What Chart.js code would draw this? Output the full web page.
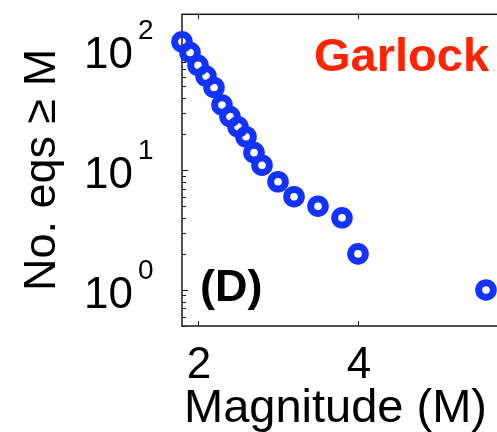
<!DOCTYPE html>
<html>
<head>
  <title>Garlock magnitude-frequency</title>
  <script src="https://cdn.jsdelivr.net/npm/chart.js"></script>
  <style>
    html, body {
      margin: 0;
      padding: 0;
      background: #fff;
      overflow: hidden;
    }
    canvas { display: block; }
  </style>
</head>
<body>
<canvas id="gr" width="540" height="432"></canvas>
<script>
  // cumulative number of events with magnitude >= M
  const magnitudes = [1.8, 1.9, 2.0, 2.1, 2.2, 2.3, 2.4, 2.5, 2.6, 2.7, 2.8, 3.0, 3.2, 3.5, 3.8, 4.0, 5.6];
  const counts     = [118, 96, 75, 61, 49, 35, 28, 23, 19, 14, 11, 8, 6, 5, 4, 2, 1];

  const xTicks = [2, 4, 6];
  const yDecades = [0, 1, 2];   // exponents of the labelled powers of ten

  const FONT = '"Liberation Sans", Arial, Helvetica, sans-serif';
  const INK = '#1a1a1a';

  // box, inward ticks and all the text around the axes
  const axesDecor = {
    id: 'axesDecor',
    beforeDatasetsDraw(chart) {
      const { ctx, chartArea: a } = chart;
      const xs = chart.scales.x, ys = chart.scales.y;
      ctx.save();
      ctx.strokeStyle = INK;
      ctx.lineWidth = 1.5;
      ctx.strokeRect(a.left, a.top, a.right - a.left, a.bottom - a.top);

      ctx.lineWidth = 1;
      // log ticks: 1..9 in each decade
      for (let e = -1; e <= 2; e++) {
        for (let m = 1; m <= 9; m++) {
          const v = m * Math.pow(10, e);
          if (v < ys.min || v > ys.max) continue;
          const py = Math.round(ys.getPixelForValue(v)) + 0.5;
          const len = m === 1 ? 6 : 4;
          ctx.beginPath();
          ctx.moveTo(a.left, py); ctx.lineTo(a.left + len, py);
          ctx.moveTo(a.right, py); ctx.lineTo(a.right - len, py);
          ctx.stroke();
        }
      }
      xTicks.forEach(t => {
        const px = Math.round(xs.getPixelForValue(t)) + 0.5;
        ctx.beginPath();
        ctx.moveTo(px, a.bottom); ctx.lineTo(px, a.bottom - 5);
        ctx.moveTo(px, a.top); ctx.lineTo(px, a.top + 5);
        ctx.stroke();
      });
      ctx.restore();
    },
    afterDraw(chart) {
      const { ctx, chartArea: a } = chart;
      const xs = chart.scales.x, ys = chart.scales.y;
      ctx.save();
      ctx.fillStyle = '#000';
      ctx.textBaseline = 'alphabetic';

      // y tick labels 10^n
      yDecades.forEach(n => {
        const py = ys.getPixelForValue(Math.pow(10, n));
        ctx.font = '44px ' + FONT;
        ctx.textAlign = 'left';
        const baseX = a.left - 98;
        ctx.fillText('10', baseX, py + 18);
        const w = ctx.measureText('10').width;
        ctx.font = '28px ' + FONT;
        ctx.fillText(String(n), baseX + w + 5, py - 11);
      });

      // x tick labels
      ctx.font = '44px ' + FONT;
      ctx.textAlign = 'center';
      xTicks.forEach(t => {
        ctx.fillText(String(t), xs.getPixelForValue(t) + 1, a.bottom + 52);
      });

      // axis titles
      ctx.font = '47px ' + FONT;
      ctx.textAlign = 'left';
      ctx.fillText('Magnitude (M)', a.left + 2, 422);

      ctx.save();
      ctx.translate(55, 291);
      ctx.rotate(-Math.PI / 2);
      ctx.font = '45px ' + FONT;
      ctx.fillText('No. eqs \u2265 M', 0, 0);
      ctx.restore();

      // panel tag and fault name
      ctx.font = 'bold 45px ' + FONT;
      ctx.fillText('(D)', a.left + 18, 301);
      ctx.fillStyle = '#ff2400';
      ctx.font = 'bold 47px ' + FONT;
      ctx.fillText('Garlock', 314, 71);
      ctx.restore();
    }
  };

  new Chart(document.getElementById('gr'), {
    type: 'scatter',
    data: {
      datasets: [{
        label: 'Garlock',
        data: magnitudes.map((m, i) => ({ x: m, y: counts[i] })),
        showLine: false,
        pointStyle: 'circle',
        pointRadius: 7.3,
        pointBorderWidth: 7,
        pointHoverRadius: 7.3,
        borderColor: '#1232ff',
        backgroundColor: 'rgba(0,0,0,0)',
        clip: false
      }]
    },
    options: {
      responsive: false,
      animation: false,
      events: [],
      layout: { padding: { left: 182, top: 10, right: 22, bottom: 106 } },
      plugins: {
        legend: { display: false },
        tooltip: { enabled: false }
      },
      scales: {
        x: {
          type: 'linear',
          min: 1.8,
          max: 6,
          display: false
        },
        y: {
          type: 'logarithmic',
          min: 0.5,
          max: 200,
          display: false
        }
      }
    },
    plugins: [axesDecor]
  });
</script>
</body>
</html>
